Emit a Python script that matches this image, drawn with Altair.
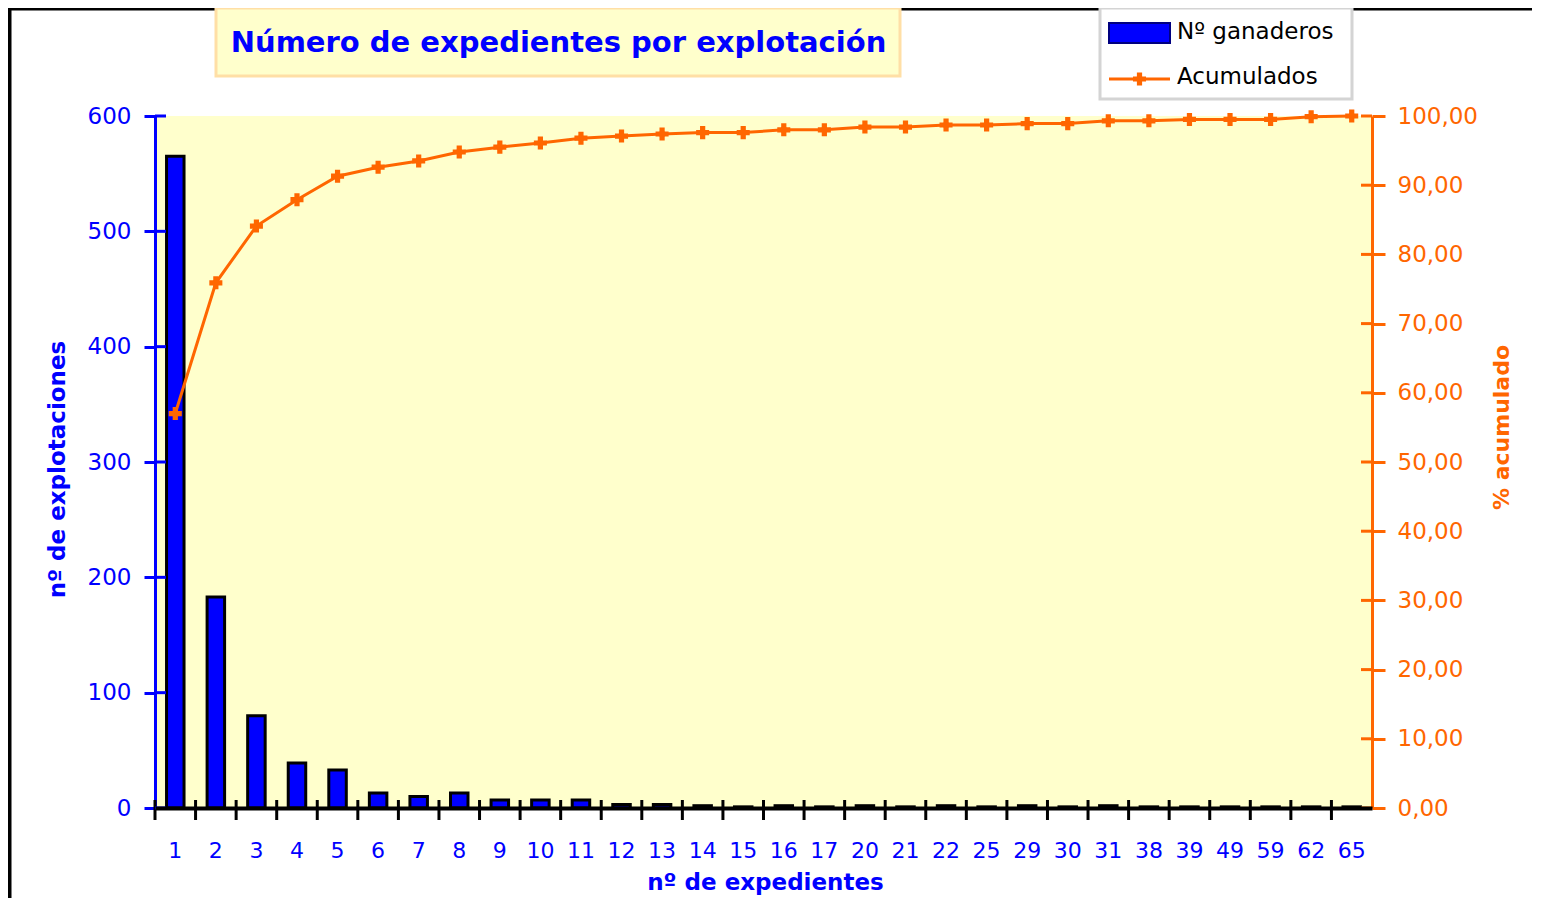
import altair as alt
import pandas as pd

# ---- data ----
cats = ["1", "2", "3", "4", "5", "6", "7", "8", "9", "10", "11", "12", "13", "14", "15",
        "16", "17", "20", "21", "22", "25", "29", "30", "31", "38", "39", "49", "59", "62", "65"]
counts = [565, 183, 80, 39, 33, 13, 10, 13, 7, 7, 7, 3, 3, 2, 1,
          2, 1, 2, 1, 2, 1, 2, 1, 2, 1, 1, 1, 1, 1, 1]
cum_pct = [57.0, 75.9, 84.1, 87.9, 91.3, 92.6, 93.5, 94.8, 95.5, 96.1, 96.8, 97.1, 97.4, 97.6, 97.6,
           98.0, 98.0, 98.4, 98.4, 98.7, 98.7, 98.9, 98.9, 99.3, 99.3, 99.5, 99.5, 99.5, 99.9, 100.0]
left_ticks = [0, 100, 200, 300, 400, 500, 600]
right_ticks = [0, 10, 20, 30, 40, 50, 60, 70, 80, 90, 100]

df = pd.DataFrame({"cat": cats, "count": counts, "cum": cum_pct})
ldf = pd.DataFrame({"v": left_ticks})
rdf = pd.DataFrame({"v": right_ticks})

BLUE = "#0000FF"
ORANGE = "#FF6600"
BG = "#FFFFCC"
FONT = "DejaVu Sans"
W, H = 1217, 692

x_axis = alt.Axis(
    title="nº de expedientes", titleColor=BLUE, titleFont=FONT, titleFontSize=23,
    titleFontWeight="bold", titleX=610, titleY=74, titleAlign="center", titleBaseline="middle",
    labelColor=BLUE, labelFont=FONT, labelFontSize=22, labelAngle=0, labelPadding=32,
    ticks=False, tickSize=0, domainColor="black", domainWidth=4, grid=False, zindex=1,
)

left_axis = alt.Axis(
    values=left_ticks, orient="left", grid=False,
    domainColor=BLUE, domainWidth=3, tickColor=BLUE, tickWidth=3, tickSize=11,
    labelColor=BLUE, labelFont=FONT, labelFontSize=23, labelPadding=13,
    title="nº de explotaciones", titleColor=BLUE, titleFont=FONT, titleFontSize=23,
    titleFontWeight="bold", titleAngle=270, titleX=-98, titleY=353,
    titleAlign="center", titleBaseline="middle",
)

right_axis = alt.Axis(
    values=right_ticks, orient="right", grid=False,
    domainColor=ORANGE, domainWidth=3, tickColor=ORANGE, tickWidth=3, tickSize=13,
    labelColor=ORANGE, labelFont=FONT, labelFontSize=23, labelPadding=12,
    labelExpr="replace(format(datum.value, '.2f'), '.', ',')",
    title="% acumulado", titleColor=ORANGE, titleFont=FONT, titleFontSize=22,
    titleFontWeight="bold", titleAngle=270, titleX=129, titleY=311,
    titleAlign="center", titleBaseline="middle",
)

xs = alt.Scale(paddingInner=0, paddingOuter=0)
ys_left = alt.Scale(domain=[0, 600])
ys_right = alt.Scale(domain=[0, 100])


def xenc(**kw):
    return alt.X("cat:N", sort=cats, scale=xs, axis=x_axis, **kw)


bars = alt.Chart(df).mark_bar(size=17.5, fill=BLUE, stroke="black", strokeWidth=3).encode(
    x=xenc(),
    y=alt.Y("count:Q", scale=ys_left, axis=left_axis),
)

xticks = alt.Chart(df).mark_rule(color="black", strokeWidth=3).encode(
    x=xenc(bandPosition=0),
    y=alt.value(H - 8), y2=alt.value(H + 12),
)

lticks = alt.Chart(ldf).mark_rule(color=BLUE, strokeWidth=3).encode(
    y=alt.Y("v:Q", scale=ys_left, axis=left_axis),
    x=alt.value(0), x2=alt.value(11),
)

line = alt.Chart(df).mark_line(color=ORANGE, strokeWidth=3).encode(
    x=xenc(),
    y=alt.Y("cum:Q", scale=ys_right, axis=right_axis),
)

pts_d = alt.Chart(df).mark_point(shape="diamond", filled=True, size=90, color=ORANGE, opacity=1).encode(
    x=xenc(),
    y=alt.Y("cum:Q", scale=ys_right, axis=right_axis),
)

pts_c = alt.Chart(df).mark_point(shape="cross", filled=True, size=170, color=ORANGE, opacity=1).encode(
    x=xenc(),
    y=alt.Y("cum:Q", scale=ys_right, axis=right_axis),
)

rticks = alt.Chart(rdf).mark_rule(color=ORANGE, strokeWidth=3).encode(
    y=alt.Y("v:Q", scale=ys_right, axis=right_axis),
    x=alt.value(W - 11), x2=alt.value(W),
)

one = alt.Data(values=[{"d": 0}])


def box(x1, x2, y1, y2, **kw):
    return alt.Chart(one).mark_rect(**kw).encode(
        x=alt.value(x1), x2=alt.value(x2), y=alt.value(y1), y2=alt.value(y2))


def label(txt, x, y, **kw):
    return alt.Chart(one).mark_text(**kw).encode(
        x=alt.value(x), y=alt.value(y), text=alt.value(txt))


decor = [
    # frame lines
    box(-147, W + 160, -108, -105.5, fill="black"),
    box(-147, -143.5, -108, H + 90, fill="black"),
    # title box
    box(61, 745, -108, -40, fill=BG, stroke="#FFDFA6", strokeWidth=3),
    label("Número de expedientes por explotación", 403.5, -73, font=FONT, fontSize=29,
          fontWeight="bold", color=BLUE, align="center", baseline="middle"),
    # legend
    box(945, 1197, -108, -17, fill="white", stroke="#D4D4D4", strokeWidth=3),
    box(954, 1015, -93, -73, fill=BLUE, stroke="#000080", strokeWidth=2),
    label("Nº ganaderos", 1022, -84, font=FONT, fontSize=23, color="black",
          align="left", baseline="middle"),
    alt.Chart(one).mark_rule(color=ORANGE, strokeWidth=3).encode(
        x=alt.value(954), x2=alt.value(1015), y=alt.value(-37)),
    alt.Chart(one).mark_point(shape="diamond", filled=True, size=90, color=ORANGE, opacity=1).encode(
        x=alt.value(984.5), y=alt.value(-37)),
    alt.Chart(one).mark_point(shape="cross", filled=True, size=170, color=ORANGE, opacity=1).encode(
        x=alt.value(984.5), y=alt.value(-37)),
    label("Acumulados", 1022, -39, font=FONT, fontSize=23, color="black",
          align="left", baseline="middle"),
]

left_group = alt.layer(bars, xticks, lticks)
right_group = alt.layer(line, pts_d, pts_c, rticks)

chart = alt.layer(*decor, left_group, right_group).resolve_scale(y="independent").properties(
    width=W, height=H,
    padding={"left": 147, "top": 108, "right": 160, "bottom": 90},
    autosize=alt.AutoSizeParams(type="none"),
).configure_view(fill=BG, strokeWidth=0)

chart.save("out.html", embed_options={"renderer": "svg", "actions": False})
